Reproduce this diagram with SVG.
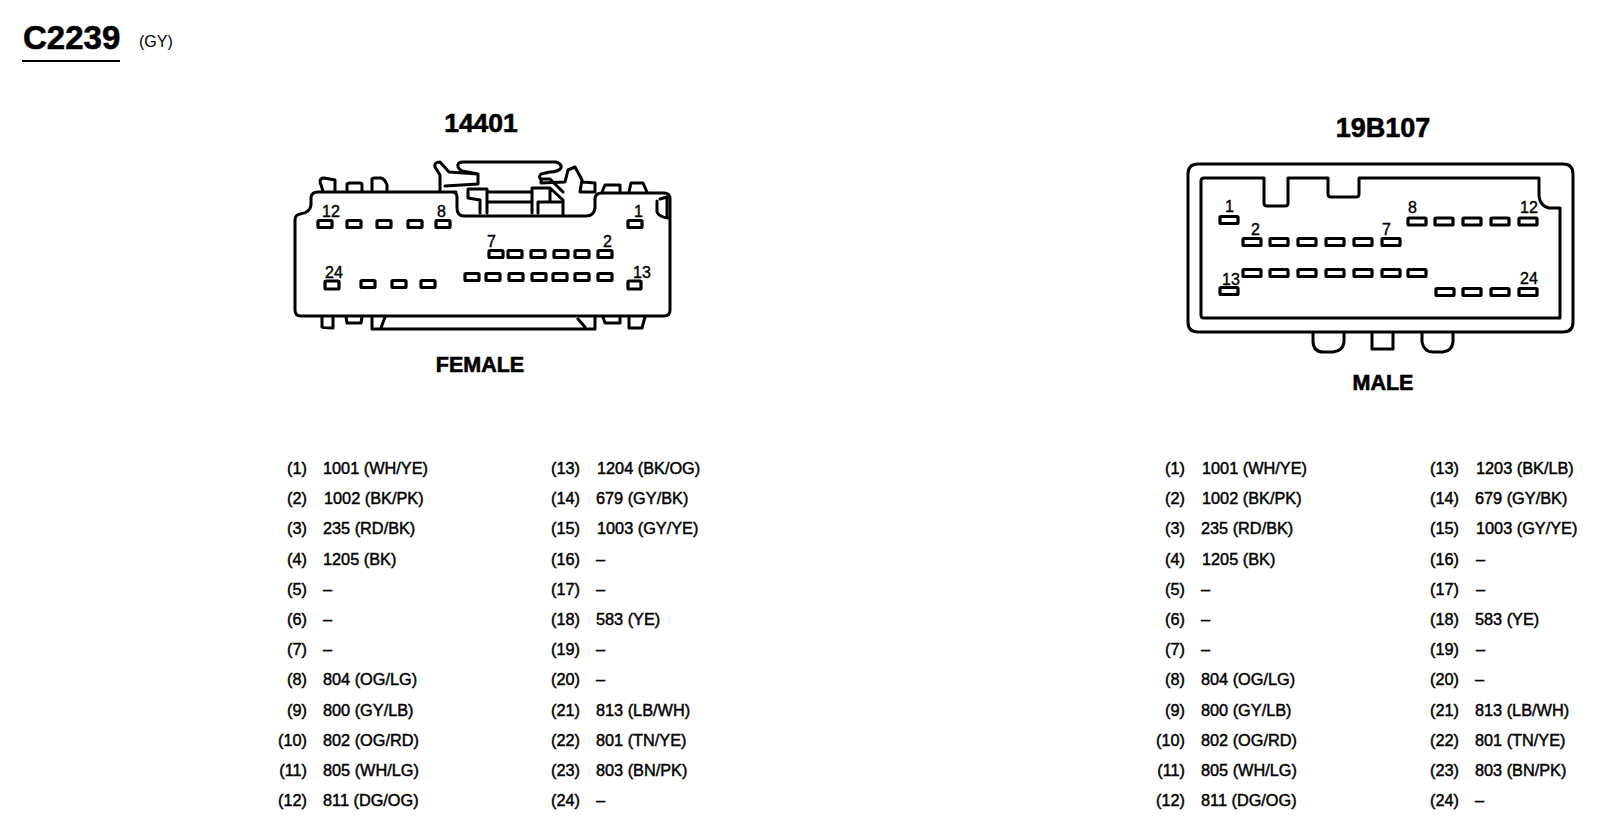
<svg xmlns="http://www.w3.org/2000/svg" width="1602" height="832" viewBox="0 0 1602 832">
<style>
text{font-family:"Liberation Sans",Arial,sans-serif;fill:#000}
.o{fill:none;stroke:#000;stroke-width:3;stroke-linejoin:round;stroke-linecap:round}
.p{fill:#fff;stroke:#000;stroke-width:3.2}
.n{font-size:16px;stroke:#000;stroke-width:.4}
.t{font-size:16.3px;stroke:#000;stroke-width:.45}
.e{text-anchor:end}
.h{font-weight:bold;stroke:#000;stroke-width:.6}
</style>
<rect width="1602" height="832" fill="#fff"/>
<g id="heading">
<text class="h" x="23" y="49" font-size="33">C2239</text>
<path d="M22 61H120" stroke="#000" stroke-width="1.8" fill="none"/>
<text x="139" y="47" font-size="16">(GY)</text>
</g>
<g id="connector-female">
<text class="h" x="481" y="132" font-size="26.500" text-anchor="middle">14401</text>
<g class="o">
<path d="M456 192H318Q312 192 311 197V205Q310 213 300 214Q295 215 295 220V310Q295 316 301 316H664Q670 316 670 310V199Q670 193 664 193H602Q595 193 595 199V208Q594 216 586 216H464Q457 216 457 208V197Q457 192 452 192"/>
<path d="M323 191L320 182Q320 178 324 178L335 180V191M347 190V184Q348 183 351 183H360Q362 183 362 185V191M372 191V179Q372 178 375 178H381Q385 179 387 185V191"/>
<path d="M440 191V175L435 167Q434 162 440 162L449 172L478 174V184L445 186M478 174L462 171Q457 168 458 165Q458 162 463 162H556Q562 164 561 168Q558 172 550 172L541 174Q538 177 541 179H550L563 192"/>
<path d="M541 179V183L565 182L568 170L575 167L582 180L580 192H595V183L583 182M602 192L605 185H620V191M629 192L631 183H643L647 192"/>
<path d="M468 189V198L480 200V213M468 189H487V213M487 192H532M487 202H532M532 188V213M532 188H550L563 200V215M550 188V202M538 213V202H563"/>
<path d="M657 201V212Q659 217 668 218M660 199L667 197V217"/>
<path d="M322 317V327Q323 328 333 328V317M346 317L347 323H361L362 317M372 317V329H595V317M385 317L381 328M578 319L585 327M603 317L605 323H620V317M629 317V328H642L645 317"/>
</g>
<g class="pins">
<rect class="p" x="318" y="220.500" width="14" height="7" rx="1"/><rect class="p" x="347" y="220.500" width="14" height="7" rx="1"/><rect class="p" x="377" y="220.500" width="14" height="7" rx="1"/><rect class="p" x="408" y="220.500" width="14" height="7" rx="1"/><rect class="p" x="436" y="220.500" width="14" height="7" rx="1"/><rect class="p" x="628" y="220.500" width="14" height="7" rx="1"/>
<rect class="p" x="489" y="250.500" width="14" height="7" rx="1"/><rect class="p" x="508" y="250.500" width="14" height="7" rx="1"/><rect class="p" x="531" y="250.500" width="14" height="7" rx="1"/><rect class="p" x="554" y="250.500" width="14" height="7" rx="1"/><rect class="p" x="575" y="250.500" width="14" height="7" rx="1"/><rect class="p" x="598" y="250.500" width="14" height="7" rx="1"/>
<rect class="p" x="465" y="273.500" width="14" height="7" rx="1"/><rect class="p" x="486" y="273.500" width="14" height="7" rx="1"/><rect class="p" x="509" y="273.500" width="14" height="7" rx="1"/><rect class="p" x="532" y="273.500" width="14" height="7" rx="1"/><rect class="p" x="553" y="273.500" width="14" height="7" rx="1"/><rect class="p" x="575" y="273.500" width="14" height="7" rx="1"/><rect class="p" x="598" y="273.500" width="14" height="7" rx="1"/>
<rect class="p" x="628" y="281" width="13" height="8" rx="1"/><rect class="p" x="325" y="281" width="14" height="8" rx="1"/><rect class="p" x="361" y="280.500" width="14" height="7" rx="1"/><rect class="p" x="392" y="280.500" width="14" height="7" rx="1"/><rect class="p" x="421" y="280.500" width="14" height="7" rx="1"/>
</g>
<text class="n" x="322" y="217">12</text><text class="n" x="437" y="217">8</text><text class="n" x="634" y="217">1</text><text class="n" x="487" y="247">7</text><text class="n" x="603" y="247">2</text><text class="n" x="325" y="278">24</text><text class="n" x="633" y="278">13</text>
<text class="h" x="480" y="371.500" font-size="21.500" text-anchor="middle">FEMALE</text>
</g>
<g id="connector-male">
<text class="h" x="1383" y="136.500" font-size="27" text-anchor="middle">19B107</text>
<g class="o">
<path d="M1198 164H1563Q1573 164 1573 174V322Q1573 332 1563 332H1198Q1188 332 1188 322V174Q1188 164 1198 164Z"/>
<path d="M1204 178H1264V203Q1264 206 1267 206H1285Q1288 206 1288 203V178H1328V194Q1328 197 1331 197H1356Q1359 197 1359 194V178H1539V196Q1540 206 1549 208H1560V318H1204Q1201 318 1201 315V181Q1201 178 1204 178Z"/>
<path d="M1313 333V342Q1314 352 1323 352H1333Q1343 351 1344 342V333M1372 333V349H1393V333M1422 333V342Q1424 352 1433 352H1443Q1452 351 1453 342V333"/>
</g>
<g class="pins">
<rect class="p" x="1220" y="216.500" width="18" height="7" rx="1"/><rect class="p" x="1408" y="218" width="18" height="7" rx="1"/><rect class="p" x="1435" y="218" width="18" height="7" rx="1"/><rect class="p" x="1463" y="218" width="18" height="7" rx="1"/><rect class="p" x="1491" y="218" width="18" height="7" rx="1"/><rect class="p" x="1519" y="218" width="18" height="7" rx="1"/>
<rect class="p" x="1243" y="238.500" width="18" height="7" rx="1"/><rect class="p" x="1270" y="238.500" width="18" height="7" rx="1"/><rect class="p" x="1298" y="238.500" width="18" height="7" rx="1"/><rect class="p" x="1326" y="238.500" width="18" height="7" rx="1"/><rect class="p" x="1354" y="238.500" width="18" height="7" rx="1"/><rect class="p" x="1382" y="238.500" width="18" height="7" rx="1"/>
<rect class="p" x="1243" y="269.500" width="18" height="7" rx="1"/><rect class="p" x="1270" y="269.500" width="18" height="7" rx="1"/><rect class="p" x="1298" y="269.500" width="18" height="7" rx="1"/><rect class="p" x="1326" y="269.500" width="18" height="7" rx="1"/><rect class="p" x="1354" y="269.500" width="18" height="7" rx="1"/><rect class="p" x="1382" y="269.500" width="18" height="7" rx="1"/><rect class="p" x="1408" y="269.500" width="18" height="7" rx="1"/>
<rect class="p" x="1220" y="287.500" width="18" height="7" rx="1"/><rect class="p" x="1436" y="288.500" width="18" height="7" rx="1"/><rect class="p" x="1463" y="288.500" width="18" height="7" rx="1"/><rect class="p" x="1491" y="288.500" width="18" height="7" rx="1"/><rect class="p" x="1519" y="288.500" width="18" height="7" rx="1"/>
</g>
<text class="n" x="1225" y="212">1</text><text class="n" x="1251" y="235">2</text><text class="n" x="1382" y="235">7</text><text class="n" x="1408" y="213">8</text><text class="n" x="1520" y="213">12</text><text class="n" x="1222" y="285">13</text><text class="n" x="1520" y="284">24</text>
<text class="h" x="1383" y="390" font-size="21.500" text-anchor="middle">MALE</text>
</g>
<g id="pinout-female">
<text class="t e" x="307" y="474">(1)</text><text class="t" x="323" y="474">1001 (WH/YE)</text>
<text class="t e" x="307" y="504">(2)</text><text class="t" x="324" y="504">1002 (BK/PK)</text>
<text class="t e" x="307" y="534">(3)</text><text class="t" x="323" y="534">235 (RD/BK)</text>
<text class="t e" x="307" y="565">(4)</text><text class="t" x="323" y="565">1205 (BK)</text>
<text class="t e" x="307" y="595">(5)</text><text class="t" x="323" y="595">–</text>
<text class="t e" x="307" y="625">(6)</text><text class="t" x="323" y="625">–</text>
<text class="t e" x="307" y="655">(7)</text><text class="t" x="323" y="655">–</text>
<text class="t e" x="307" y="685">(8)</text><text class="t" x="323" y="685">804 (OG/LG)</text>
<text class="t e" x="307" y="716">(9)</text><text class="t" x="323" y="716">800 (GY/LB)</text>
<text class="t e" x="307" y="746">(10)</text><text class="t" x="323" y="746">802 (OG/RD)</text>
<text class="t e" x="307" y="776">(11)</text><text class="t" x="323" y="776">805 (WH/LG)</text>
<text class="t e" x="307" y="806">(12)</text><text class="t" x="323" y="806">811 (DG/OG)</text>
<text class="t e" x="580" y="474">(13)</text><text class="t" x="597" y="474">1204 (BK/OG)</text>
<text class="t e" x="580" y="504">(14)</text><text class="t" x="596" y="504">679 (GY/BK)</text>
<text class="t e" x="580" y="534">(15)</text><text class="t" x="597" y="534">1003 (GY/YE)</text>
<text class="t e" x="580" y="565">(16)</text><text class="t" x="596" y="565">–</text>
<text class="t e" x="580" y="595">(17)</text><text class="t" x="596" y="595">–</text>
<text class="t e" x="580" y="625">(18)</text><text class="t" x="596" y="625">583 (YE)</text>
<text class="t e" x="580" y="655">(19)</text><text class="t" x="596" y="655">–</text>
<text class="t e" x="580" y="685">(20)</text><text class="t" x="596" y="685">–</text>
<text class="t e" x="580" y="716">(21)</text><text class="t" x="596" y="716">813 (LB/WH)</text>
<text class="t e" x="580" y="746">(22)</text><text class="t" x="596" y="746">801 (TN/YE)</text>
<text class="t e" x="580" y="776">(23)</text><text class="t" x="596" y="776">803 (BN/PK)</text>
<text class="t e" x="580" y="806">(24)</text><text class="t" x="596" y="806">–</text>
</g>
<g id="pinout-male">
<text class="t e" x="1185" y="474">(1)</text><text class="t" x="1202" y="474">1001 (WH/YE)</text>
<text class="t e" x="1185" y="504">(2)</text><text class="t" x="1202" y="504">1002 (BK/PK)</text>
<text class="t e" x="1185" y="534">(3)</text><text class="t" x="1201" y="534">235 (RD/BK)</text>
<text class="t e" x="1185" y="565">(4)</text><text class="t" x="1202" y="565">1205 (BK)</text>
<text class="t e" x="1185" y="595">(5)</text><text class="t" x="1201" y="595">–</text>
<text class="t e" x="1185" y="625">(6)</text><text class="t" x="1201" y="625">–</text>
<text class="t e" x="1185" y="655">(7)</text><text class="t" x="1201" y="655">–</text>
<text class="t e" x="1185" y="685">(8)</text><text class="t" x="1201" y="685">804 (OG/LG)</text>
<text class="t e" x="1185" y="716">(9)</text><text class="t" x="1201" y="716">800 (GY/LB)</text>
<text class="t e" x="1185" y="746">(10)</text><text class="t" x="1201" y="746">802 (OG/RD)</text>
<text class="t e" x="1185" y="776">(11)</text><text class="t" x="1201" y="776">805 (WH/LG)</text>
<text class="t e" x="1185" y="806">(12)</text><text class="t" x="1201" y="806">811 (DG/OG)</text>
<text class="t e" x="1459" y="474">(13)</text><text class="t" x="1476" y="474">1203 (BK/LB)</text>
<text class="t e" x="1459" y="504">(14)</text><text class="t" x="1475" y="504">679 (GY/BK)</text>
<text class="t e" x="1459" y="534">(15)</text><text class="t" x="1476" y="534">1003 (GY/YE)</text>
<text class="t e" x="1459" y="565">(16)</text><text class="t" x="1476" y="565">–</text>
<text class="t e" x="1459" y="595">(17)</text><text class="t" x="1476" y="595">–</text>
<text class="t e" x="1459" y="625">(18)</text><text class="t" x="1475" y="625">583 (YE)</text>
<text class="t e" x="1459" y="655">(19)</text><text class="t" x="1476" y="655">–</text>
<text class="t e" x="1459" y="685">(20)</text><text class="t" x="1475" y="685">–</text>
<text class="t e" x="1459" y="716">(21)</text><text class="t" x="1475" y="716">813 (LB/WH)</text>
<text class="t e" x="1459" y="746">(22)</text><text class="t" x="1475" y="746">801 (TN/YE)</text>
<text class="t e" x="1459" y="776">(23)</text><text class="t" x="1475" y="776">803 (BN/PK)</text>
<text class="t e" x="1459" y="806">(24)</text><text class="t" x="1475" y="806">–</text>
</g>
</svg>
